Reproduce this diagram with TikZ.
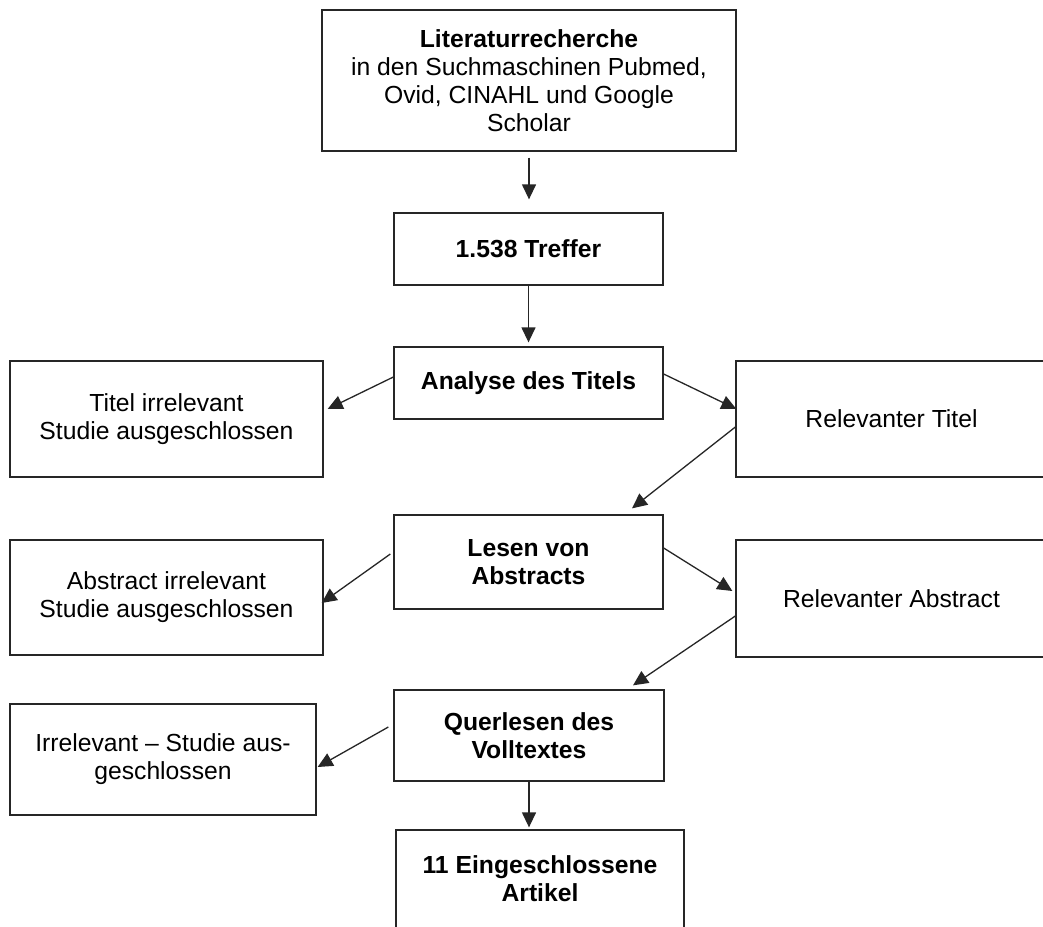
\documentclass[tikz,border=0pt]{standalone}
\usepackage{fontspec}
\setmainfont{Liberation Sans}
\usetikzlibrary{arrows.meta}
\begin{document}
\begin{tikzpicture}[x=1pt,y=-1pt,
  box/.style={draw=black!85, line width=1.3pt, rectangle, align=center, inner sep=0pt,
    font=\fontsize{24.7}{28}\selectfont, text=black},
  arr/.style={draw=black!85, line width=1.3pt, -{Triangle[length=15pt,width=14pt]}}]
\useasboundingbox (0,0) rectangle (1043,926);
\fill[white] (0,0) rectangle (1043,926);

\node[box, minimum width=414pt, minimum height=141pt] (lit) at (529,80.5)
  {\textbf{Literaturrecherche}\\in den Suchmaschinen Pubmed,\\Ovid, CINAHL und Google\\Scholar};
\node[box, minimum width=269pt, minimum height=72pt] (treffer) at (528.5,249)
  {\textbf{1.538 Treffer}};
\node[box, minimum width=269pt, minimum height=72pt] (analyse) at (528.5,383)
  {\textbf{Analyse des Titels}};
\node[box, minimum width=313pt, minimum height=116pt] (titelirr) at (166.5,419)
  {Titel irrelevant\\Studie ausgeschlossen};
\node[box, minimum width=311pt, minimum height=116pt] (reltitel) at (891.5,419)
  {Relevanter Titel};
\node[box, minimum width=269pt, minimum height=94pt] (lesen) at (528.5,562)
  {\textbf{Lesen von}\\\textbf{Abstracts}};
\node[box, minimum width=313pt, minimum height=115pt] (absirr) at (166.5,597.5)
  {Abstract irrelevant\\Studie ausgeschlossen};
\node[box, minimum width=311pt, minimum height=117pt] (relabs) at (891.5,598.5)
  {Relevanter Abstract};
\node[box, minimum width=270pt, minimum height=91pt] (quer) at (529,735.5)
  {\textbf{Querlesen des}\\\textbf{Volltextes}};
\node[box, minimum width=306pt, minimum height=111pt] (irr) at (163,759.5)
  {Irrelevant -- Studie aus-\\geschlossen};
\node[box, minimum width=288pt, minimum height=98pt] (artikel) at (540,879)
  {\textbf{11 Eingeschlossene}\\\textbf{Artikel}};

\draw[arr, shorten <=6pt, shorten >=13pt] (lit.south) -- (lit.south |- treffer.north);
\draw[arr, shorten >=4pt] (treffer.south) -- (treffer.south |- analyse.north);
\draw[arr] ([yshift=6pt]analyse.west) -- ([xshift=4pt,yshift=10pt]titelirr.east);
\draw[arr] ([yshift=9pt]analyse.east) -- ([xshift=1pt,yshift=10pt]reltitel.west);
\draw[arr] ([yshift=-8pt]reltitel.west) -- ([xshift=103.5pt,yshift=6pt]lesen.north);
\draw[arr] ([xshift=-3pt,yshift=8pt]lesen.west) -- ([xshift=-2pt,yshift=-5.5pt]absirr.east);
\draw[arr] ([yshift=14pt]lesen.east) -- ([xshift=-3pt,yshift=7.5pt]relabs.west);
\draw[arr] ([yshift=-17.5pt]relabs.west) -- ([xshift=104pt,yshift=4pt]quer.north);
\draw[arr] ([xshift=-5pt,yshift=8.5pt]quer.west) -- ([xshift=1pt,yshift=-7.5pt]irr.east);
\draw[arr, shorten >=2pt] (quer.south) -- (quer.south |- artikel.north);
\end{tikzpicture}
\end{document}
